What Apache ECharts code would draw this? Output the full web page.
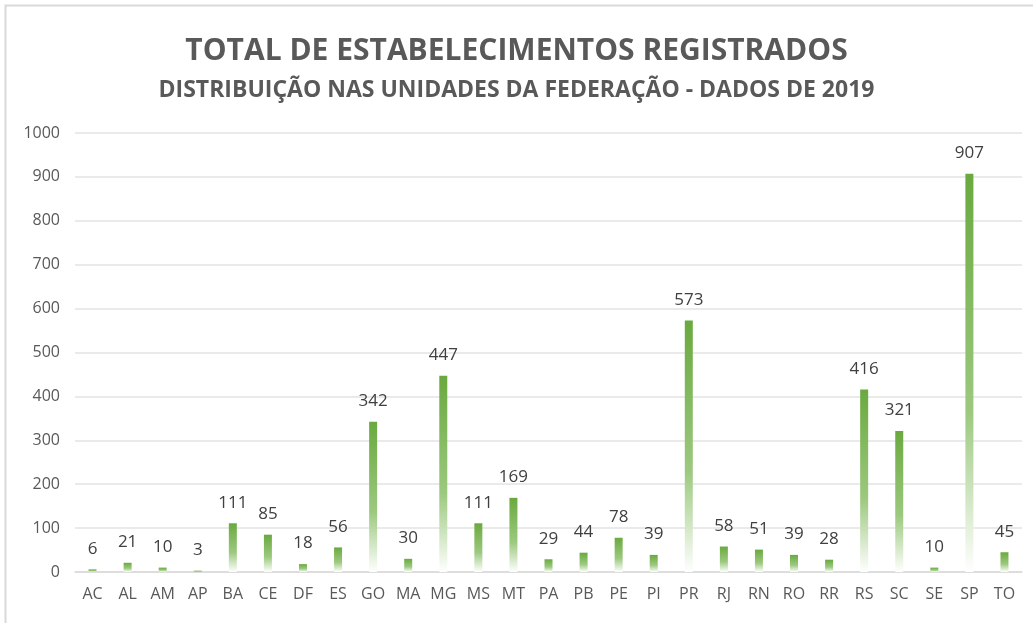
<!DOCTYPE html>
<html>
<head>
<meta charset="utf-8">
<script src="https://cdn.jsdelivr.net/npm/echarts@6/dist/echarts.min.js"></script>
<style>
  html, body { margin: 0; padding: 0; background: #fff; }
  #chart { width: 1033px; height: 623px; }
</style>
</head>
<body>
<div id="chart"></div>
<script>
// ---------- DATA ----------
var estados = ['AC', 'AL', 'AM', 'AP', 'BA', 'CE', 'DF', 'ES', 'GO', 'MA', 'MG', 'MS', 'MT', 'PA',
	'PB', 'PE', 'PI', 'PR', 'RJ', 'RN', 'RO', 'RR', 'RS', 'SC', 'SE', 'SP', 'TO'];
var estabelecimentos = [6, 21, 10, 3, 111, 85, 18, 56, 342, 30, 447, 111, 169, 29,
	44, 78, 39, 573, 58, 51, 39, 28, 416, 321, 10, 907, 45];

var fonte = 'Open Sans, Lato, sans-serif';

var chart = echarts.init(document.getElementById('chart'));

let chartOptions = {
	backgroundColor: '#fff',
	animation: false,
	title: [
		{
			text: 'TOTAL DE ESTABELECIMENTOS REGISTRADOS',
			left: 'center',
			top: 31,
			textStyle: {
				fontFamily: fonte,
				fontSize: 30,
				fontWeight: 'bold',
				color: '#595959'
			}
		},
		{
			text: 'DISTRIBUIÇÃO NAS UNIDADES DA FEDERAÇÃO - DADOS DE 2019',
			left: 'center',
			top: 74,
			textStyle: {
				fontFamily: fonte,
				fontSize: 23,
				fontWeight: 'bold',
				color: '#595959'
			}
		}
	],
	graphic: [
		{
			type: 'rect',
			shape: { x: 5.5, y: 5.5, width: 1100, height: 700 },
			style: { fill: 'none', stroke: '#d9d9d9', lineWidth: 2 },
			silent: true
		}
	],
	grid: {
		left: 75,
		right: 11,
		top: 133,
		bottom: 51
	},
	xAxis: {
		type: 'category',
		data: estados,
		axisLine: { lineStyle: { color: '#d9d9d9', width: 1.5 } },
		axisTick: { show: false },
		axisLabel: {
			fontFamily: fonte,
			fontSize: 16,
			color: '#595959',
			margin: 14,
			interval: 0
		}
	},
	yAxis: {
		type: 'value',
		min: 0,
		max: 1000,
		interval: 100,
		axisLine: { show: false },
		axisTick: { show: false },
		splitLine: { lineStyle: { color: '#e3e3e3', width: 1.5 } },
		axisLabel: {
			fontFamily: fonte,
			fontSize: 16,
			color: '#595959',
			margin: 15,
			formatter: function (v) { return String(v); }
		}
	},
	series: [
		{
			name: 'Estabelecimentos',
			type: 'bar',
			barWidth: 8,
			data: estabelecimentos,
			itemStyle: {
				color: new echarts.graphic.LinearGradient(0, 0, 0, 1, [
					{ offset: 0, color: '#6aa93f' },
					{ offset: 0.6, color: '#9cc97f' },
					{ offset: 1, color: '#ffffff' }
				])
			},
			label: {
				show: true,
				position: 'top',
				distance: 12,
				fontFamily: fonte,
				fontSize: 17,
				color: '#404040'
			}
		}
	]
};

chart.setOption(chartOptions);
</script>
</body>
</html>
